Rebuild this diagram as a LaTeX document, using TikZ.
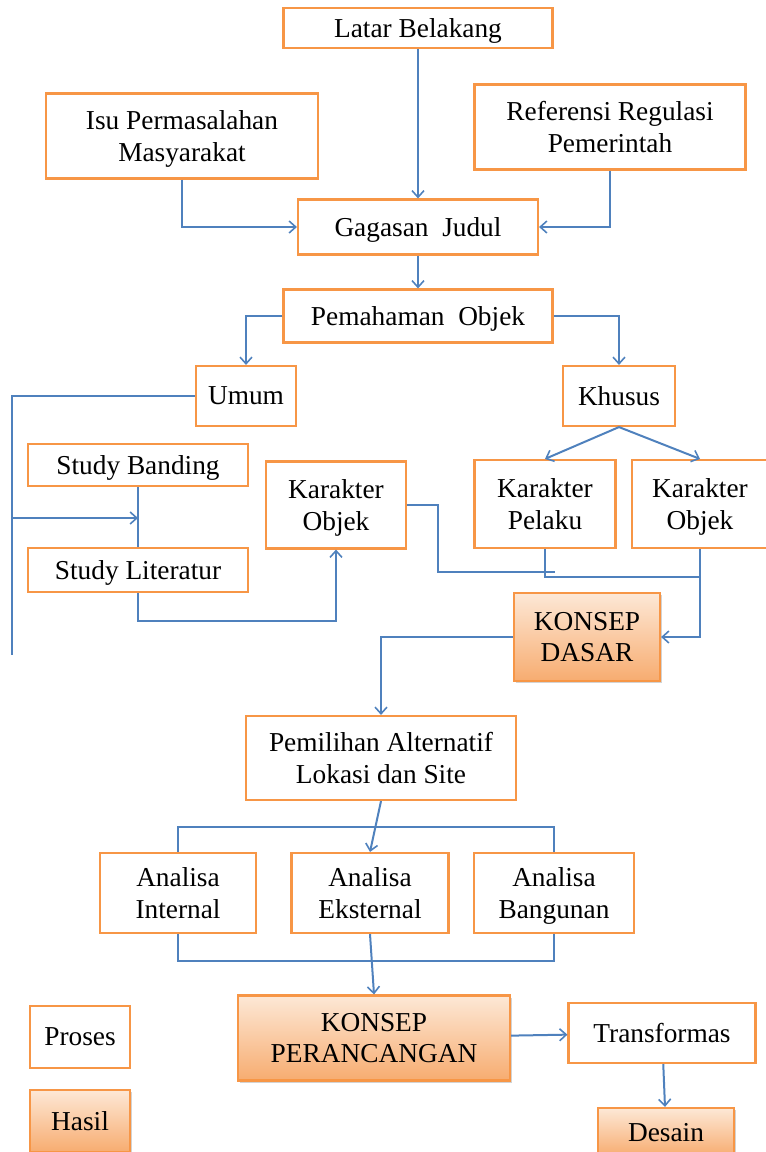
\documentclass[tikz,border=0pt]{standalone}
\usepackage{fontspec}
\setmainfont{Liberation Serif}
\usetikzlibrary{arrows.meta,shadows}
\definecolor{jingga}{RGB}{247,150,70}
\definecolor{jinggamuda}{RGB}{253,232,214}
\definecolor{jinggatua}{RGB}{247,172,112}
\definecolor{biru}{RGB}{79,129,189}
\newcommand\teks{\fontsize{20.5}{23.5}\selectfont}
\begin{document}
\begin{tikzpicture}[x=0.75pt,y=-0.75pt,
		proses/.style={draw=jingga,line width=1.6pt,fill=white,align=center,font=\teks,inner sep=0pt,text depth=0pt},
		hasil/.style={proses,top color=jinggamuda,bottom color=jinggatua,drop shadow={opacity=0.35,shadow xshift=1.2pt,shadow yshift=-1.8pt}},
		ukuran/.style 2 args={minimum width=#1*0.75pt,minimum height=#2*0.75pt},
		garis/.style={draw=biru,line width=1.5pt},
		panah/.style={garis,-{Straight Barb[length=5pt,width=9pt,line width=1.2pt]}}]
		\useasboundingbox (0,0) rectangle (766,1152);
		\node[proses,ukuran={269}{40}] (latar) at (418,28) {Latar Belakang};
		\node[proses,ukuran={272}{85}] (isu) at (182,136) {Isu Permasalahan\\Masyarakat};
		\node[proses,ukuran={271}{85}] (referensi) at (610,127) {Referensi Regulasi\\Pemerintah};
		\node[proses,ukuran={240}{55}] (gagasan) at (418,227) {Gagasan~ Judul};
		\node[proses,ukuran={269}{53}] (pemahaman) at (418,316) {Pemahaman~ Objek};
		\node[proses,ukuran={100}{60}] (umum) at (246,396) {Umum};
		\node[proses,ukuran={112}{60}] (khusus) at (619,396) {Khusus};
		\node[proses,ukuran={220}{42}] (banding) at (138,465) {Study Banding};
		\node[proses,ukuran={220}{44}] (literatur) at (138,570) {Study Literatur};
		\node[proses,ukuran={140}{87}] (objekkiri) at (336,505) {Karakter\\Objek};
		\node[proses,ukuran={141}{88}] (pelaku) at (545,504) {Karakter\\Pelaku};
		\node[proses,ukuran={136}{88}] (objekkanan) at (700,504) {Karakter\\Objek};
		\node[hasil,ukuran={146}{88}] (dasar) at (587,637) {KONSEP\\DASAR};
		\node[proses,ukuran={270}{84}] (pemilihan) at (381,758) {Pemilihan Alternatif\\Lokasi dan Site};
		\node[proses,ukuran={156}{80}] (internal) at (178,893) {Analisa\\Internal};
		\node[proses,ukuran={157}{80}] (eksternal) at (370,893) {Analisa\\Eksternal};
		\node[proses,ukuran={160}{80}] (bangunan) at (554,893) {Analisa\\Bangunan};
		\node[hasil,ukuran={272}{85}] (perancangan) at (374,1038) {KONSEP\\PERANCANGAN};
		\node[proses,ukuran={187}{60}] (transformas) at (662,1033) {Transformas};
		\node[hasil,ukuran={136}{48}] (desain) at (666,1132) {Desain};
		\node[proses,ukuran={100}{62}] (legproses) at (80,1037) {Proses};
		\node[hasil,ukuran={100}{62}] (leghasil) at (80,1121) {Hasil};
		\coordinate (kiri) at (12,655);
		\coordinate (cabang) at (12,518);
		\coordinate (ujung) at (555,572);
		\draw[panah] (latar) -- (gagasan);
		\draw[panah] (isu) |- (gagasan);
		\draw[panah] (referensi) |- (gagasan);
		\draw[panah] (gagasan) -- (pemahaman);
		\draw[panah] (pemahaman) -| (umum);
		\draw[panah] (pemahaman) -| (khusus);
		\draw[panah] (khusus.south) -- (pelaku.north);
		\draw[panah] (khusus.south) -- (objekkanan.north);
		\draw[garis] (umum.west) -| (kiri);
		\draw[panah] (cabang) -- (banding.south |- cabang);
		\draw[garis] (banding) -- (literatur);
		\draw[panah] (literatur.south) -- ++(0,28) -| (objekkiri.south);
		\draw[garis] (objekkiri.east) -- ++(31,0) |- (ujung);
		\draw[garis] (pelaku.south) -- ++(0,28) -| (objekkanan.south);
		\draw[panah] (objekkanan.south) |- (dasar.east);
		\draw[panah] (dasar.west) -| (pemilihan.north);
		\draw[panah] (pemilihan.south) -- (eksternal.north);
		\draw[garis] (internal.north) -- ++(0,-25) -| (bangunan.north);
		\draw[garis] (internal.south) -- ++(0,27) -| (bangunan.south);
		\draw[panah] (eksternal.south) -- (perancangan.north);
		\draw[panah] (perancangan) -- (transformas);
		\draw[panah] (transformas) -- (desain);
\end{tikzpicture}
\end{document}
